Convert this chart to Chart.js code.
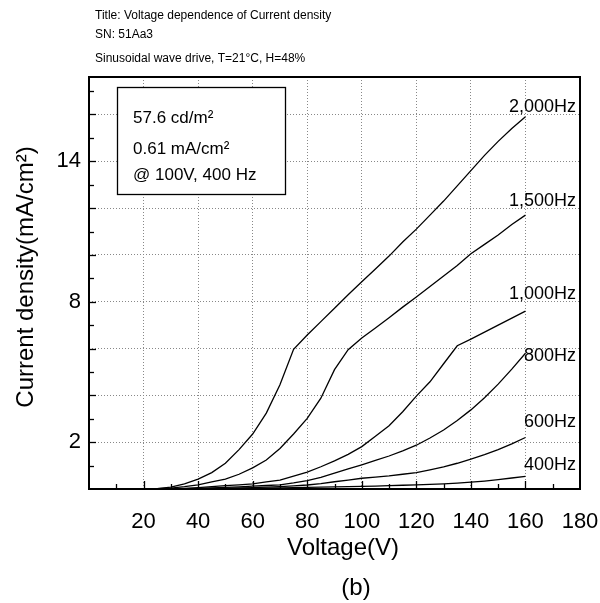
<!DOCTYPE html>
<html>
<head>
<meta charset="utf-8">
<script src="https://cdn.jsdelivr.net/npm/chart.js@4.4.1/dist/chart.umd.min.js"></script>
<style>
  body { margin: 0; background: #fff; overflow: hidden; }
  canvas { display: block; }
</style>
</head>
<body>
<canvas id="grafica" width="600" height="603"></canvas>
<script>
// ===== Datos =====
const voltaje = [20, 25, 30, 35, 40, 45, 50, 55, 60, 65, 70, 75, 80, 85, 90, 95, 100, 105, 110, 115, 120, 125, 130, 135, 140, 145, 150, 155, 160];

const frecuencias = ["2,000Hz", "1,500Hz", "1,000Hz", "800Hz", "600Hz", "400Hz"];

const j2000 = [0, 0.02, 0.08, 0.22, 0.42, 0.70, 1.10, 1.68, 2.35, 3.24, 4.45, 5.97, 6.58, 7.15, 7.72, 8.30, 8.85, 9.40, 9.95, 10.55, 11.10, 11.70, 12.30, 12.95, 13.60, 14.25, 14.85, 15.40, 15.90];
const j1500 = [0, 0.01, 0.04, 0.10, 0.18, 0.30, 0.42, 0.63, 0.90, 1.24, 1.73, 2.35, 3.02, 3.88, 5.10, 5.95, 6.45, 6.88, 7.32, 7.77, 8.20, 8.65, 9.10, 9.55, 10.05, 10.45, 10.85, 11.30, 11.70];
const j1000 = [0, 0, 0.01, 0.03, 0.06, 0.10, 0.14, 0.18, 0.22, 0.30, 0.38, 0.55, 0.72, 0.95, 1.20, 1.48, 1.81, 2.25, 2.70, 3.30, 3.97, 4.58, 5.35, 6.12, 6.40, 6.70, 7.00, 7.30, 7.60];
const j800 = [0, 0, 0.01, 0.02, 0.03, 0.05, 0.07, 0.09, 0.12, 0.15, 0.18, 0.26, 0.36, 0.50, 0.68, 0.86, 1.03, 1.22, 1.41, 1.63, 1.87, 2.18, 2.52, 2.93, 3.38, 3.90, 4.48, 5.12, 5.80];
const j600 = [0, 0, 0, 0.01, 0.02, 0.03, 0.04, 0.05, 0.06, 0.08, 0.10, 0.13, 0.17, 0.23, 0.31, 0.38, 0.46, 0.51, 0.56, 0.63, 0.70, 0.82, 0.95, 1.10, 1.28, 1.47, 1.68, 1.93, 2.20];
const j400 = [0, 0, 0, 0, 0.01, 0.01, 0.02, 0.02, 0.03, 0.04, 0.05, 0.06, 0.07, 0.08, 0.09, 0.10, 0.11, 0.12, 0.14, 0.16, 0.18, 0.20, 0.22, 0.25, 0.29, 0.34, 0.40, 0.47, 0.54];

const series = [j2000, j1500, j1000, j800, j600, j400];

const xTickLabels = [20, 40, 60, 80, 100, 120, 140, 160, 180];
const yTickLabels = [2, 8, 14];

const encabezado = [
  "Title: Voltage dependence of Current density",
  "SN: 51Aa3",
  "Sinusoidal wave drive, T=21°C, H=48%"
];
const notas = ["57.6 cd/m²", "0.61 mA/cm²", "@ 100V, 400 Hz"];

// ===== Estilo =====
const FUENTE = "'Liberation Sans', Arial, sans-serif";

// desplazamiento vertical (px) de cada etiqueta respecto al final de su curva
const ajusteEtiqueta = [-5, -9, -12, 8, -11, -6];

// ===== Textos, marco y marcas de los ejes =====
const textos = {
  id: "textos",
  afterDatasetsDraw(chart) {
    const ctx = chart.ctx;
    const area = chart.chartArea;
    const x = chart.scales.x;
    const y = chart.scales.y;

    ctx.save();
    ctx.strokeStyle = "#000";
    ctx.fillStyle = "#000";

    // marcas hacia adentro
    ctx.lineWidth = 1.3;
    for (let v = 10; v < 180; v += 10) {
      const px = Math.round(x.getPixelForValue(v)) + 0.5;
      const largo = v % 20 === 0 ? 8 : 5;
      ctx.beginPath();
      ctx.moveTo(px, area.bottom);
      ctx.lineTo(px, area.bottom - largo);
      ctx.stroke();
    }
    for (let v = 1; v < 18; v++) {
      const py = Math.round(y.getPixelForValue(v)) + 0.5;
      const largo = v % 2 === 0 ? 7 : 5;
      ctx.beginPath();
      ctx.moveTo(area.left, py);
      ctx.lineTo(area.left + largo, py);
      ctx.stroke();
    }

    // marco del área
    ctx.lineWidth = 2;
    ctx.strokeRect(area.left, area.top, area.right - area.left, area.bottom - area.top);

    // recuadro de notas
    ctx.fillStyle = "#fff";
    ctx.fillRect(117, 87, 168, 107);
    ctx.lineWidth = 1.3;
    ctx.strokeRect(117.5, 87.5, 168, 107);
    ctx.fillStyle = "#000";
    ctx.font = "17px " + FUENTE;
    ctx.textAlign = "left";
    ctx.textBaseline = "alphabetic";
    ctx.fillText(notas[0], 133, 123);
    ctx.fillText(notas[1], 133, 154);
    ctx.fillText(notas[2], 133, 180);

    // etiquetas de frecuencia
    ctx.font = "18px " + FUENTE;
    ctx.textAlign = "right";
    series.forEach((s, i) => {
      const py = y.getPixelForValue(s[s.length - 1]) + ajusteEtiqueta[i];
      ctx.fillText(frecuencias[i], area.right - 4, py);
    });

    // encabezado
    ctx.font = "12px " + FUENTE;
    ctx.textAlign = "left";
    ctx.fillText(encabezado[0], 95, 19);
    ctx.fillText(encabezado[1], 95, 38);
    ctx.fillText(encabezado[2], 95, 62);

    // títulos de ejes
    ctx.font = "24px " + FUENTE;
    ctx.textAlign = "center";
    ctx.textBaseline = "middle";
    ctx.fillText("Voltage(V)", 343, 548);
    ctx.fillText("(b)", 356, 588);

    ctx.translate(26, 277);
    ctx.rotate(-Math.PI / 2);
    ctx.fillText("Current density(mA/cm²)", 0, 0);
    ctx.restore();
  }
};

// ===== Gráfica =====
const datasets = series.map((s, i) => ({
  label: frecuencias[i],
  data: voltaje.map((v, k) => ({ x: v, y: s[k] })),
  borderColor: "#000",
  borderWidth: 1.3,
  pointRadius: 0,
  tension: 0,
  fill: false
}));

new Chart(document.getElementById("grafica"), {
  type: "line",
  data: { datasets },
  options: {
    responsive: false,
    animation: false,
    devicePixelRatio: 1,
    layout: { padding: { left: 0, top: 77, right: 20, bottom: 0 } },
    plugins: {
      legend: { display: false },
      tooltip: { enabled: false }
    },
    scales: {
      x: {
        type: "linear",
        min: 0,
        max: 180,
        afterFit(scale) {
          scale.height = 114;
          scale.paddingLeft = 0;
          scale.paddingRight = 0;
        },
        grid: { color: "#888", lineWidth: 1, drawTicks: false },
        border: { display: false, dash: [1, 2] },
        ticks: {
          stepSize: 20,
          autoSkip: false,
          maxRotation: 0,
          padding: 20,
          color: "#000",
          font: { family: FUENTE, size: 22 },
          callback: v => (xTickLabels.includes(v) ? v : "")
        }
      },
      y: {
        min: 0,
        max: 17.6,
        afterFit(scale) {
          scale.width = 89;
          scale.paddingTop = 0;
          scale.paddingBottom = 0;
        },
        grid: { color: "#888", lineWidth: 1, drawTicks: false },
        border: { display: false, dash: [1, 2] },
        ticks: {
          stepSize: 2,
          includeBounds: false,
          padding: 8,
          color: "#000",
          font: { family: FUENTE, size: 22 },
          callback: v => (yTickLabels.includes(v) ? v : "")
        }
      }
    }
  },
  plugins: [textos]
});
</script>
</body>
</html>
